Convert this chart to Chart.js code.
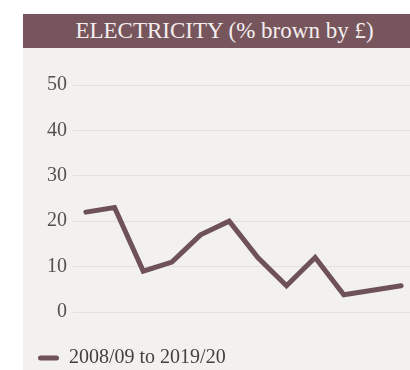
<!DOCTYPE html>
<html lang="en">
<head>
  <meta charset="UTF-8" />
  <title>Electricity (% brown by £)</title>
  <script src="https://cdn.jsdelivr.net/npm/chart.js"></script>
  <style>
    body {
      margin: 0;
      background: #ffffff;
      font-family: "Liberation Serif", "DejaVu Serif", serif;
    }

    .panel {
      position: absolute;
      left: 23px;
      top: 14px;
      width: 387px;
      height: 356px;
      background: #f3f1f0;
    }

    .header {
      height: 34px;
      line-height: 34px;
      background: #76555c;
      color: #f4eeee;
      font-size: 23px;
      text-align: center;
      padding-left: 16px;
      box-sizing: border-box;
    }

    .chart-box {
      position: relative;
      width: 387px;
      height: 322px;
    }
  </style>
</head>
<body>

<div class="panel">
  <div class="header">ELECTRICITY (% brown by £)</div>
  <div class="chart-box"><canvas id="elecChart"></canvas></div>
</div>

<script>
  const years = ['2008/09', '2009/10', '2010/11', '2011/12', '2012/13', '2013/14',
                 '2014/15', '2015/16', '2016/17', '2017/18', '2018/19', '2019/20'];
  const brownPct = [22, 23, 9, 11, 17, 20, 12, 5.8, 12, 3.8, 4.8, 5.8];
  const yTicks = [0, 10, 20, 30, 40, 50];
  const seriesLabel = '2008/09 to 2019/20';

  const lineColor = '#6f5158';

  const ctx = document.getElementById('elecChart').getContext('2d');
  const elecChart = new Chart(ctx, {
    type: 'line',
    data: {
      datasets: [{
        label: seriesLabel,
        data: brownPct.map((v, i) => ({ x: i, y: v })),
        borderColor: lineColor,
        backgroundColor: lineColor,
        borderWidth: 5,
        borderCapStyle: 'round',
        borderJoinStyle: 'miter',
        pointRadius: 0,
        tension: 0
      }]
    },
    options: {
      responsive: true,
      maintainAspectRatio: false,
      animation: false,
      layout: {
        padding: { top: 37, right: 0, bottom: -8, left: 0 }
      },
      scales: {
        x: {
          type: 'linear',
          min: -0.45,
          max: 11.31,
          afterFit: (scale) => {
            scale.height = 21;
          },
          border: { display: false },
          grid: { display: false },
          ticks: { display: false }
        },
        y: {
          min: 0,
          max: 50,
          afterBuildTicks: (scale) => {
            scale.ticks = yTicks.map(v => ({ value: v }));
          },
          afterFit: (scale) => {
            scale.width = 50;
          },
          border: { display: false },
          grid: {
            color: '#e6dfdf',
            lineWidth: 1,
            drawTicks: false
          },
          ticks: {
            padding: 6,
            color: '#555050',
            font: { family: '"Liberation Serif", serif', size: 20 }
          }
        }
      },
      plugins: {
        legend: {
          position: 'bottom',
          align: 'start',
          labels: {
            boxWidth: 21,
            boxHeight: 5,
            useBorderRadius: true,
            borderRadius: 2.5,
            padding: 15,
            color: '#444040',
            font: { family: '"Liberation Serif", serif', size: 20 },
            generateLabels: (chart) => {
              const items = Chart.defaults.plugins.legend.labels.generateLabels(chart);
              items.forEach(item => { item.lineWidth = 0; });
              return items;
            }
          }
        },
        tooltip: { enabled: false }
      }
    }
  });
</script>

</body>
</html>
